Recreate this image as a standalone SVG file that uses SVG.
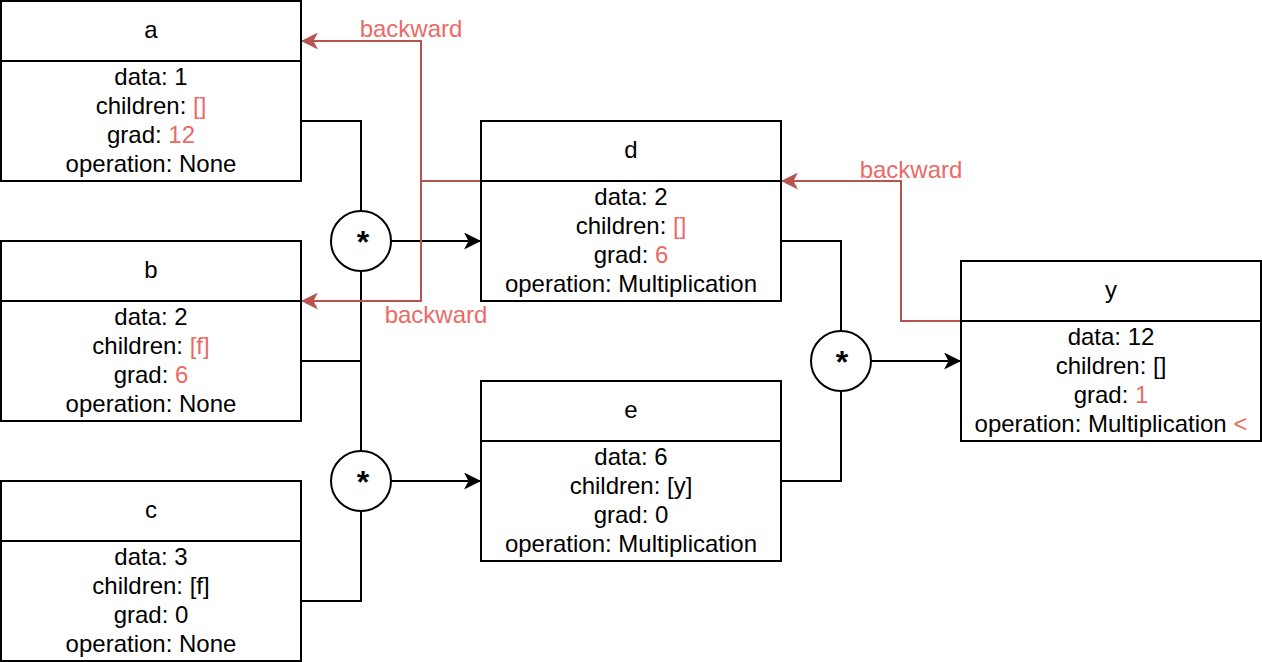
<svg xmlns="http://www.w3.org/2000/svg" width="1262" height="662" viewBox="0 0 1262 662">
<defs>
<marker id="ab" viewBox="0 0 17 17" refX="16" refY="8.5" markerWidth="17" markerHeight="17" markerUnits="userSpaceOnUse" orient="auto"><path d="M0,0 L17,8.5 L0,17 L4.5,8.5 Z" fill="#000"/></marker>
<marker id="ar" viewBox="0 0 17 17" refX="16" refY="8.5" markerWidth="17" markerHeight="17" markerUnits="userSpaceOnUse" orient="auto"><path d="M0,0 L17,8.5 L0,17 L4.5,8.5 Z" fill="#b85450"/></marker>
</defs>
<style>
text{font-family:"Liberation Sans",Arial,sans-serif;font-size:24px;text-anchor:middle;fill:#000}
.box{fill:#fff;stroke:#000;stroke-width:2}
.ln{fill:none;stroke:#000;stroke-width:2}
.rd{fill:none;stroke:#b85450;stroke-width:2}
.r{fill:#ea6b66}
.lbl{fill:#ea6b66}
.star{font-size:32px;font-weight:bold}
</style>
<rect width="1262" height="662" fill="#fff"/>
<g id="connectors">
<path class="ln" d="M301,121 H361 V211"/>
<path class="ln" d="M301,361 H361 V271"/>
<path class="ln" d="M361,361 V451"/>
<path class="ln" d="M301,601 H361 V511"/>
<path class="ln" d="M391,241 H480" marker-end="url(#ab)"/>
<path class="ln" d="M391,481 H480" marker-end="url(#ab)"/>
<path class="ln" d="M781,241 H841 V331"/>
<path class="ln" d="M781,481 H841 V391"/>
<path class="ln" d="M871,361 H960" marker-end="url(#ab)"/>
<path class="rd" d="M481,181 H421 V41 H302" marker-end="url(#ar)"/>
<path class="rd" d="M421,181 V301 H302" marker-end="url(#ar)"/>
<path class="rd" d="M961,321 H901 V181 H782" marker-end="url(#ar)"/>
<text class="lbl" x="411" y="37">backward</text>
<text class="lbl" x="436" y="323">backward</text>
<text class="lbl" x="911" y="178">backward</text>
</g>
<g id="op1"><circle class="box" cx="361" cy="241" r="30"/><text class="star" x="363" y="253">*</text></g>
<g id="op2"><circle class="box" cx="361" cy="481" r="30"/><text class="star" x="363" y="493">*</text></g>
<g id="op3"><circle class="box" cx="841" cy="361" r="30"/><text class="star" x="842" y="373">*</text></g>
<g id="node-a">
<rect class="box" x="1" y="1" width="300" height="180"/><line class="ln" x1="1" y1="61" x2="301" y2="61"/>
<text x="151" y="38">a</text>
<text x="151" y="85">data: 1</text>
<text x="151" y="114">children: <tspan class="r">[]</tspan></text>
<text x="151" y="143">grad: <tspan class="r">12</tspan></text>
<text x="151" y="172">operation: None</text>
</g>
<g id="node-b">
<rect class="box" x="1" y="241" width="300" height="180"/><line class="ln" x1="1" y1="301" x2="301" y2="301"/>
<text x="151" y="278">b</text>
<text x="151" y="325">data: 2</text>
<text x="151" y="354">children: <tspan class="r">[f]</tspan></text>
<text x="151" y="383">grad: <tspan class="r">6</tspan></text>
<text x="151" y="412">operation: None</text>
</g>
<g id="node-c">
<rect class="box" x="1" y="481" width="300" height="180"/><line class="ln" x1="1" y1="541" x2="301" y2="541"/>
<text x="151" y="518">c</text>
<text x="151" y="565">data: 3</text>
<text x="151" y="594">children: [f]</text>
<text x="151" y="623">grad: 0</text>
<text x="151" y="652">operation: None</text>
</g>
<g id="node-d">
<rect class="box" x="481" y="121" width="300" height="180"/><line class="ln" x1="481" y1="181" x2="781" y2="181"/>
<text x="631" y="158">d</text>
<text x="631" y="205">data: 2</text>
<text x="631" y="234">children: <tspan class="r">[]</tspan></text>
<text x="631" y="263">grad: <tspan class="r">6</tspan></text>
<text x="631" y="292">operation: Multiplication</text>
</g>
<g id="node-e">
<rect class="box" x="481" y="381" width="300" height="180"/><line class="ln" x1="481" y1="441" x2="781" y2="441"/>
<text x="631" y="418">e</text>
<text x="631" y="465">data: 6</text>
<text x="631" y="494">children: [y]</text>
<text x="631" y="523">grad: 0</text>
<text x="631" y="552">operation: Multiplication</text>
</g>
<g id="node-y">
<rect class="box" x="961" y="261" width="300" height="180"/><line class="ln" x1="961" y1="321" x2="1261" y2="321"/>
<text x="1111" y="298">y</text>
<text x="1111" y="345">data: 12</text>
<text x="1111" y="374">children: []</text>
<text x="1111" y="403">grad: <tspan class="r">1</tspan></text>
<text x="1111" y="432">operation: Multiplication <tspan class="r">&lt;</tspan></text>
</g>
</svg>
